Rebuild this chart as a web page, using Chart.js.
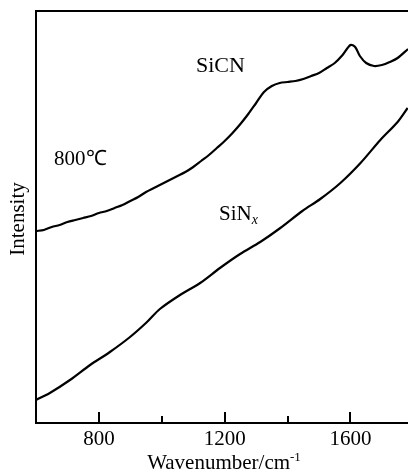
<!DOCTYPE html>
<html>
<head>
<meta charset="utf-8">
<script src="https://cdn.jsdelivr.net/npm/chart.js@4.4.0/dist/chart.umd.min.js"></script>
<style>
  html, body { margin: 0; padding: 0; background: #fff; }
</style>
</head>
<body>
<canvas id="raman" width="408" height="473"></canvas>
<script>
// values (intensity in arbitrary units)
const sicnWave = [600, 625, 650, 675, 700, 725, 750, 775, 800, 825, 850, 875, 900, 925, 950, 975,
  1000, 1025, 1050, 1075, 1100, 1125, 1150, 1175, 1200, 1225, 1250, 1275, 1300, 1325, 1350, 1375,
  1400, 1425, 1450, 1475, 1500, 1525, 1550, 1575, 1600, 1615, 1630, 1650, 1675, 1700, 1725, 1750, 1783];
const sicnIntensity = [192, 193, 196, 198, 201, 203, 205, 207, 210, 212, 215, 218, 222, 226, 231, 235,
  239, 243, 247, 251, 256, 262, 268, 275, 282, 290, 299, 309, 320, 331, 337, 340,
  341, 342, 344, 347, 350, 355, 360, 368, 378, 376, 367, 360, 357, 358, 361, 365, 374];

const sinxWave = [600, 644, 708, 772, 835, 899, 953, 994, 1058, 1122, 1185, 1249, 1313, 1377,
  1447, 1504, 1568, 1632, 1695, 1750, 1782];
const sinxIntensity = [23, 30, 43, 58, 71, 86, 101, 114, 128, 140, 155, 169, 181, 195,
  212, 224, 240, 260, 283, 301, 315];

const majorTicks = [800, 1200, 1600];
const minorTicks = [1000, 1400];

const SERIF = '"Liberation Serif", "Times New Roman", serif';

function toPoints(xs, ys) {
  return xs.map((x, i) => ({ x: x, y: ys[i] }));
}

// frame top line, inward ticks and text labels
const decorations = {
  id: 'decorations',
  afterDraw(chart) {
    const ctx = chart.ctx;
    const area = chart.chartArea;
    const xs = chart.scales.x;
    ctx.save();
    ctx.strokeStyle = '#000';
    ctx.lineWidth = 2;
    ctx.beginPath();
    ctx.moveTo(area.left - 1, area.top);
    ctx.lineTo(area.right, area.top);
    ctx.stroke();

    majorTicks.forEach((v) => {
      const px = Math.round(xs.getPixelForValue(v));
      ctx.beginPath();
      ctx.moveTo(px, area.bottom);
      ctx.lineTo(px, area.bottom - 11);
      ctx.stroke();
    });
    minorTicks.forEach((v) => {
      const px = Math.round(xs.getPixelForValue(v));
      ctx.beginPath();
      ctx.moveTo(px, area.bottom);
      ctx.lineTo(px, area.bottom - 7);
      ctx.stroke();
    });

    ctx.fillStyle = '#000';
    ctx.textBaseline = 'alphabetic';
    ctx.font = '22px ' + SERIF;
    ctx.textAlign = 'left';
    ctx.fillText('SiCN', 196, 72);
    ctx.font = '21px ' + SERIF;
    ctx.fillText('800\u2103', 54, 165);
    ctx.font = '21px ' + SERIF;
    ctx.fillText('SiN', 219, 220);
    const sinW = ctx.measureText('SiN').width;
    ctx.font = 'italic 14px ' + SERIF;
    ctx.fillText('x', 219 + sinW, 224);

    // x axis title with superscript
    ctx.font = '21px ' + SERIF;
    const main = 'Wavenumber/cm';
    const mw = ctx.measureText(main).width;
    ctx.font = '13px ' + SERIF;
    const sw = ctx.measureText('-1').width;
    const startX = 224 - (mw + sw) / 2;
    ctx.font = '21px ' + SERIF;
    ctx.fillText(main, startX, 469);
    ctx.font = '13px ' + SERIF;
    ctx.fillText('-1', startX + mw, 461);

    // y axis title
    ctx.font = '21px ' + SERIF;
    ctx.translate(18, 219);
    ctx.rotate(-Math.PI / 2);
    ctx.textAlign = 'center';
    ctx.textBaseline = 'middle';
    ctx.fillText('Intensity', 0, 0);
    ctx.restore();
  }
};

const ctx = document.getElementById('raman').getContext('2d');

new Chart(ctx, {
  type: 'line',
  data: {
    datasets: [
      {
        label: 'SiCN',
        data: toPoints(sicnWave, sicnIntensity),
        borderColor: '#000',
        borderWidth: 2.2,
        pointRadius: 0,
        tension: 0.3
      },
      {
        label: 'SiNx',
        data: toPoints(sinxWave, sinxIntensity),
        borderColor: '#000',
        borderWidth: 2.2,
        pointRadius: 0,
        tension: 0.3
      }
    ]
  },
  options: {
    responsive: false,
    animation: false,
    devicePixelRatio: 1,
    layout: { padding: { top: 11, right: 0, left: 0, bottom: 0 } },
    plugins: {
      legend: { display: false },
      tooltip: { enabled: false }
    },
    scales: {
      x: {
        type: 'linear',
        min: 600,
        max: 1783,
        afterFit(scale) { scale.height = 50; },
        afterBuildTicks(scale) { scale.ticks = majorTicks.map((v) => ({ value: v })); },
        ticks: {
          autoSkip: false,
          maxRotation: 0,
          padding: 4,
          color: '#000',
          font: { family: SERIF, size: 21 },
          callback: (v) => String(v)
        },
        grid: { display: false, drawTicks: false },
        border: { display: true, color: '#000', width: 2 }
      },
      y: {
        min: 0,
        max: 412,
        afterFit(scale) { scale.width = 36; },
        ticks: { display: false },
        grid: { display: false, drawTicks: false },
        border: { display: true, color: '#000', width: 2 }
      }
    }
  },
  plugins: [decorations]
});
</script>
</body>
</html>
